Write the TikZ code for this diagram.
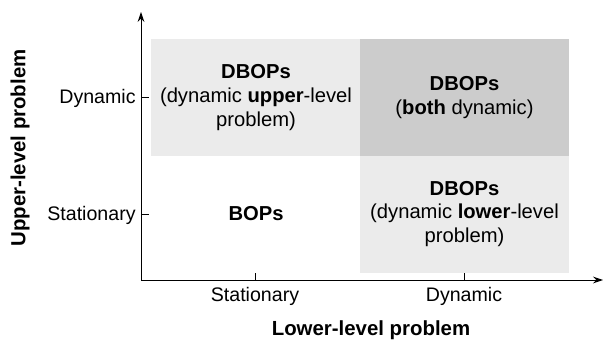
\documentclass[tikz,border=0pt]{standalone}
\usepackage{fontspec}
\setmainfont{Liberation Sans}
\usetikzlibrary{arrows.meta}
\definecolor{lightcell}{RGB}{235,235,235}
\definecolor{darkcell}{RGB}{204,204,204}
\begin{document}
\begin{tikzpicture}[x=0.5pt,y=-0.5pt,
  every node/.style={font=\fontsize{9.8}{11.8}\selectfont, inner sep=0pt},
  cell/.style={minimum width=104.6pt, minimum height=58.6pt, align=center, anchor=center,
    font=\fontsize{10.1}{11.9}\selectfont},
  axis/.style={line width=0.5pt, -{Stealth[length=5pt,width=3.4pt]}},
  tick/.style={line width=0.5pt},
  axlabel/.style={font=\fontsize{10.2}{12}\selectfont\bfseries}]
\useasboundingbox (0,0) rectangle (603,341);
% cells
\node[cell, fill=lightcell] (ul) at (256,97.5) {\textbf{DBOPs}\\(dynamic \textbf{upper}-level\\problem)};
\node[cell, fill=lightcell] (lr) at (464.5,214) {\textbf{DBOPs}\\(dynamic \textbf{lower}-level\\problem)};
\node[cell, fill=darkcell] (ur) at (464.5,97.5) {\textbf{DBOPs}\\(\textbf{both} dynamic)};
\node[cell] (ll) at (256,214) {\textbf{BOPs}};
% axes
\coordinate (o) at (141,280);
\coordinate (ytop) at (141,12);
\coordinate (xend) at (603,280);
\draw[axis] (o) -- (ytop);
\draw[axis] (o) -- (xend);
% y ticks
\coordinate (yt1) at (141,98);
\coordinate (yt2) at (141,215);
\draw[tick] (yt1) -- ++(8,0);
\draw[tick] (yt2) -- ++(8,0);
\node[anchor=east] (ydyn) at (136,98) {Dynamic};
\node[anchor=east] (ysta) at (136,215) {Stationary};
% x ticks
\coordinate (xt1) at (255,280);
\coordinate (xt2) at (464,280);
\draw[tick] (xt1) -- ++(0,-7);
\draw[tick] (xt2) -- ++(0,-7);
\node (xsta) at (255,296) {Stationary};
\node (xdyn) at (464,296) {Dynamic};
% axis labels
\node[axlabel] (xlab) at (371,330) {Lower-level problem};
\node[axlabel, rotate=90] (ylab) at (20,148) {Upper-level problem};
\end{tikzpicture}
\end{document}
